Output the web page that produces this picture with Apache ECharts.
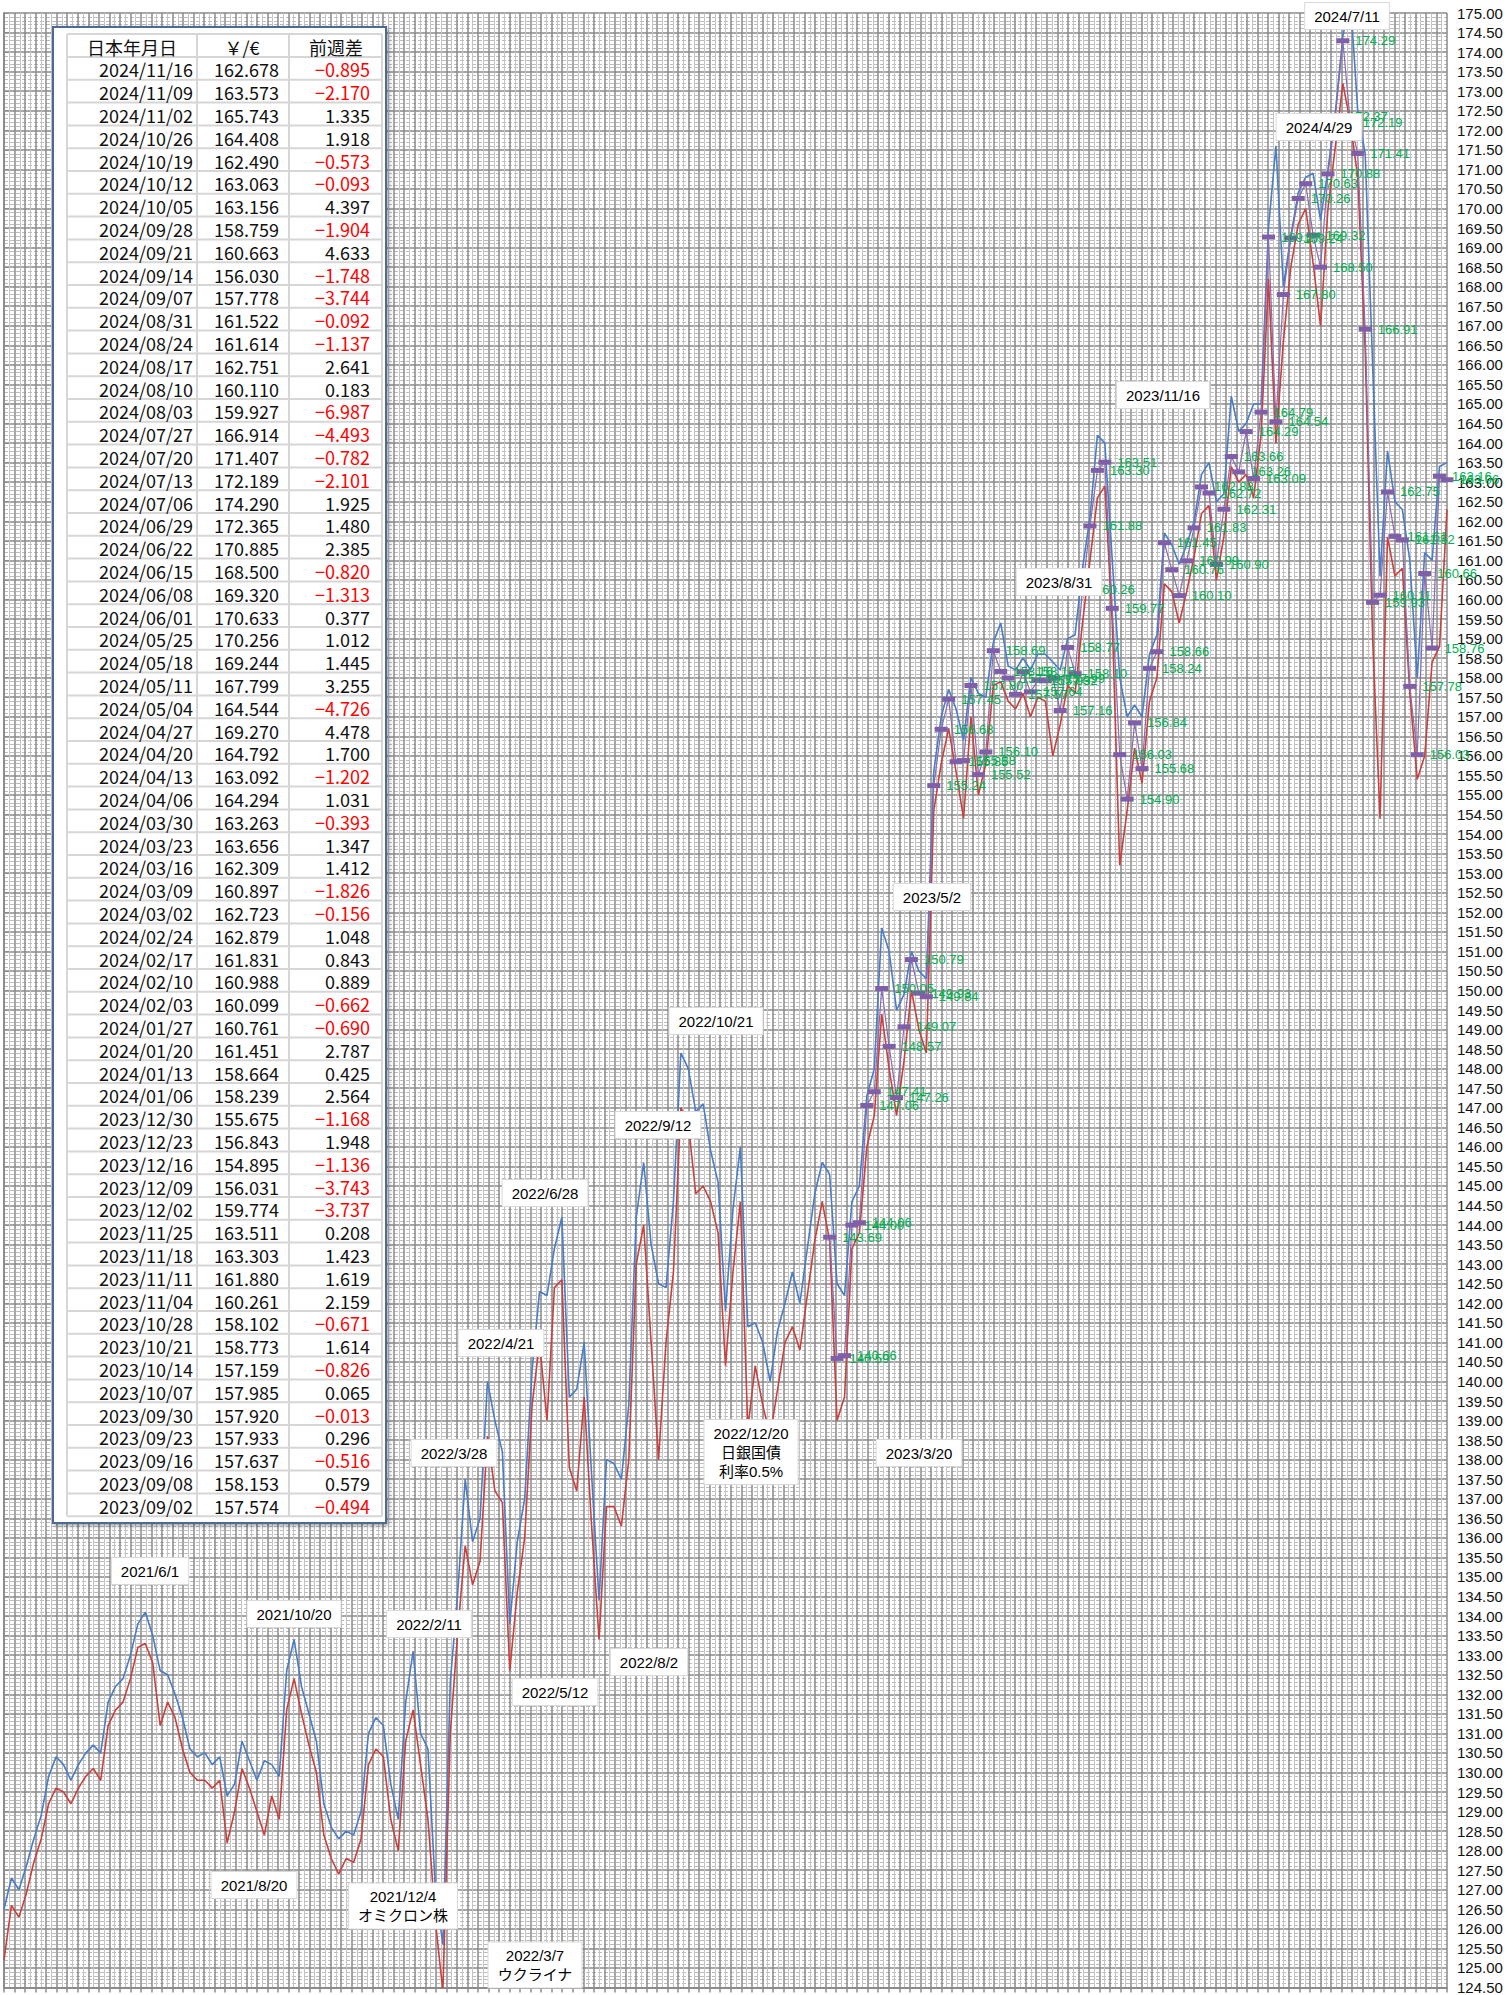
<!DOCTYPE html>
<html><head><meta charset="utf-8">
<script src="https://cdn.jsdelivr.net/npm/echarts/dist/echarts.min.js"></script>
<style>html,body{margin:0;padding:0;background:#fff}#c{width:1507px;height:1995px}</style>
</head><body><div id="c"></div><script>
// ---- DATA ----
// weekly points, first week ends 2021-01-22, last 2024-10-11 (195 weeks)
const firstWeek = '2021-01-22';
const highs = [
126.5,127.3,127.0,127.6,128.3,128.9,129.9,130.4,130.2,129.8,
130.2,130.5,130.7,130.5,131.8,132.2,132.4,133.0,133.8,134.1,
133.5,132.6,132.5,132.0,131.4,130.6,130.4,130.5,130.2,130.4,
129.4,129.7,130.8,130.3,129.8,130.3,130.2,129.9,132.6,133.4,
132.2,131.5,130.8,129.2,128.6,128.3,128.5,128.4,129.0,131.0,
131.4,131.2,129.7,128.8,131.8,133.1,131.0,130.6,127.0,125.6,
132.3,134.6,137.5,135.9,136.5,140.0,139.0,138.2,133.8,135.9,
137.0,140.3,142.3,142.2,143.4,144.2,139.6,139.8,141.0,137.6,
134.4,138.0,137.9,137.5,139.4,144.2,145.6,143.5,142.5,142.4,
144.6,148.4,148.0,146.9,147.1,145.9,145.1,141.8,144.4,146.0,
141.4,141.5,141.0,140.0,141.3,142.0,142.8,142.0,143.4,144.8,
145.6,145.3,142.5,142.2,144.6,145.0,147.3,148.0,151.6,151.0,
149.5,149.9,151.0,150.5,150.3,155.6,157.0,157.7,157.2,156.4,
158.0,157.6,157.5,158.9,159.4,158.3,158.2,158.5,158.2,158.6,
158.6,158.4,158.2,159.0,159.1,160.8,162.1,164.2,164.0,161.0,
158.0,157.0,157.3,157.0,158.6,159.1,161.7,161.4,160.9,161.4,
162.0,163.2,163.5,162.5,162.7,165.2,164.3,164.5,165.0,165.0,
169.5,171.6,168.0,169.3,170.4,170.8,170.9,169.7,171.0,172.5,
174.4,175.4,172.5,171.4,166.0,160.6,163.8,162.5,162.3,161.0,
158.0,161.2,161.0,163.4,163.5];
const lows = [
125.2,126.6,126.3,126.9,127.7,128.3,129.2,129.6,129.5,129.2,
129.6,129.9,130.1,129.8,131.2,131.6,131.8,132.4,133.2,133.3,
132.8,131.2,131.8,131.4,130.6,130.0,129.8,129.8,129.6,129.8,
128.2,129.0,130.1,129.6,129.0,128.4,129.4,128.8,131.6,132.4,
131.5,130.7,130.0,128.4,127.8,127.4,127.8,127.7,128.3,130.2,
130.6,130.4,128.8,128.0,130.8,131.6,130.2,128.8,126.2,124.4,
131.0,133.6,135.8,134.8,135.4,138.6,137.2,136.9,132.6,134.6,
136.0,139.4,141.0,139.0,142.4,142.6,137.8,137.2,139.6,136.3,
133.4,136.8,136.8,136.3,138.0,143.0,144.0,141.0,138.0,141.0,
142.8,147.0,146.6,144.8,145.0,144.6,143.8,140.4,142.8,144.6,
138.8,140.4,139.4,138.6,139.8,141.0,141.4,140.8,142.2,143.6,
144.6,143.6,139.0,139.6,143.4,143.8,146.0,146.8,149.4,148.0,
146.8,148.2,150.0,149.0,148.4,154.6,155.8,156.7,155.6,154.4,
157.0,155.0,155.8,157.8,157.9,157.4,157.2,157.6,157.0,157.5,
157.4,156.0,156.8,157.8,157.6,159.4,161.0,162.6,162.9,159.4,
153.2,154.6,156.2,155.3,157.4,158.0,160.4,160.2,159.4,160.2,
161.1,162.2,162.4,160.5,161.6,163.4,163.0,163.2,162.6,164.2,
168.2,164.0,166.6,168.5,169.6,170.0,168.6,167.0,170.0,171.6,
173.2,172.2,170.8,166.4,159.0,154.4,161.6,160.6,160.8,157.6,
155.4,156.0,158.4,158.8,162.3];
const closesSpring2023 = [143.69,140.59,140.66,144.00,144.06,147.06,147.41,150.05,148.57,147.26,
149.07,150.79,149.93,149.84,155.24,156.68,157.45,155.85,155.88,157.80,155.52,156.10,158.69,158.16,157.99];
// table (newest first)
const tableDates = ['2024/11/16','2024/11/09','2024/11/02','2024/10/26','2024/10/19','2024/10/12','2024/10/05','2024/09/28',
'2024/09/21','2024/09/14','2024/09/07','2024/08/31','2024/08/24','2024/08/17','2024/08/10','2024/08/03','2024/07/27',
'2024/07/20','2024/07/13','2024/07/06','2024/06/29','2024/06/22','2024/06/15','2024/06/08','2024/06/01','2024/05/25',
'2024/05/18','2024/05/11','2024/05/04','2024/04/27','2024/04/20','2024/04/13','2024/04/06','2024/03/30','2024/03/23',
'2024/03/16','2024/03/09','2024/03/02','2024/02/24','2024/02/17','2024/02/10','2024/02/03','2024/01/27','2024/01/20',
'2024/01/13','2024/01/06','2023/12/30','2023/12/23','2023/12/16','2023/12/09','2023/12/02','2023/11/25','2023/11/18',
'2023/11/11','2023/11/04','2023/10/28','2023/10/21','2023/10/14','2023/10/07','2023/09/30','2023/09/23','2023/09/16',
'2023/09/08','2023/09/02'];
const tableRates = [162.678,163.573,165.743,164.408,162.490,163.063,163.156,158.759,160.663,156.030,157.778,161.522,
161.614,162.751,160.110,159.927,166.914,171.407,172.189,174.290,172.365,170.885,168.500,169.320,170.633,170.256,
169.244,167.799,164.544,169.270,164.792,163.092,164.294,163.263,163.656,162.309,160.897,162.723,162.879,161.831,
160.988,160.099,160.761,161.451,158.664,158.239,155.675,156.843,154.895,156.031,159.774,163.511,163.303,161.880,
160.261,158.102,158.773,157.159,157.985,157.920,157.933,157.637,158.153,157.574];
const tableDiffs = [-0.895,-2.170,1.335,1.918,-0.573,-0.093,4.397,-1.904,4.633,-1.748,-3.744,-0.092,-1.137,2.641,0.183,
-6.987,-4.493,-0.782,-2.101,1.925,1.480,2.385,-0.820,-1.313,0.377,1.012,1.445,3.255,-4.726,4.478,1.700,-1.202,1.031,
-0.393,1.347,1.412,-1.826,-0.156,1.048,0.843,0.889,-0.662,-0.690,2.787,0.425,2.564,-1.168,1.948,-1.136,-3.743,-3.737,
0.208,1.423,1.619,2.159,-0.671,1.614,-0.826,0.065,-0.013,0.296,-0.516,0.579,-0.494];
const tableHeader = ['日本年月日','￥/€','前週差'];
const yTickMin = 124.5, yTickMax = 175.0, yTickStep = 0.5;
const annotations = [
  ['2024/7/11',1347,16],['2024/4/29',1319,127],['2023/11/16',1163,395],['2023/8/31',1059,582],
  ['2023/5/2',932,897],['2023/3/20',919,1453],['2022/12/20\n日銀国債\n利率0.5%',751,1452],
  ['2022/10/21',716,1021],['2022/9/12',658,1125],['2022/6/28',545,1193],['2022/4/21',501,1343],
  ['2022/3/28',454,1453],['2022/2/11',429,1624],['2022/5/12',555,1692],['2022/8/2',649,1662],
  ['2022/3/7\nウクライナ',535,1965],['2021/12/4\nオミクロン株',403,1906],['2021/8/20',254,1885],
  ['2021/10/20',294,1614],['2021/6/1',150,1571]
];

// ---- BUILD ----
const N = highs.length;
const cats = [];
{ const d0 = new Date(firstWeek + 'T00:00:00Z');
  for (let i = 0; i < N; i++) { const d = new Date(d0.getTime() + i*7*86400000);
    cats.push(d.getUTCFullYear()+'/'+(d.getUTCMonth()+1)+'/'+d.getUTCDate()); } }
const weekly = new Array(N).fill(null);
closesSpring2023.forEach((v,i)=>{ weekly[111+i] = v; });
for (let w = 136; w < N; w++) weekly[w] = tableRates[199 - w];

const FONT = '"Liberation Sans", Arial, "Noto Sans CJK JP", sans-serif';
const JFONT = '"Noto Sans CJK JP", "Liberation Sans", sans-serif';

const graphics = [];
const TZ = 100;
// table box
const TX0 = 53, TY0 = 27, TX1 = 386, TY1 = 1523;
const cols = [67,197,289,382];
const rowTop0 = 57, rowH = 22.8, headTop = 34;
graphics.push({type:'rect', z:TZ, shape:{x:TX0,y:TY0,width:TX1-TX0,height:TY1-TY0},
  style:{fill:'#fff',stroke:'#4d6b95',lineWidth:2,shadowBlur:4,shadowColor:'rgba(0,0,0,0.35)',shadowOffsetX:2,shadowOffsetY:2}});
const nRows = tableDates.length;
const tBottom = rowTop0 + nRows*rowH;
graphics.push({type:'line',z:TZ+1,shape:{x1:cols[0],y1:headTop,x2:cols[3],y2:headTop},style:{stroke:'#d6d6d6',lineWidth:2}});
for (let i = 0; i <= nRows; i++) {
  const y = rowTop0 + i*rowH;
  graphics.push({type:'line',z:TZ+1,shape:{x1:cols[0],y1:y,x2:cols[3],y2:y},style:{stroke:'#d6d6d6',lineWidth:2}});
}
cols.forEach(x=>graphics.push({type:'line',z:TZ+1,shape:{x1:x,y1:headTop,x2:x,y2:tBottom},style:{stroke:'#d6d6d6',lineWidth:2}}));
const headCx = [132,242,336];
tableHeader.forEach((t,i)=>graphics.push({type:'text',z:TZ+2,x:headCx[i],y:(headTop+rowTop0)/2+1,
  style:{text:t,font:'18px '+JFONT,fill:'#111',align:'center',verticalAlign:'middle',lineHeight:20}}));
for (let i = 0; i < nRows; i++) {
  const cy = rowTop0 + (i+0.5)*rowH + 1;
  graphics.push({type:'text',z:TZ+2,x:193,y:cy,style:{text:tableDates[i],font:'18px '+JFONT,fill:'#111',align:'right',verticalAlign:'middle',lineHeight:20}});
  graphics.push({type:'text',z:TZ+2,x:279,y:cy,style:{text:tableRates[i].toFixed(3),font:'18px '+JFONT,fill:'#111',align:'right',verticalAlign:'middle',lineHeight:20}});
  const dv = tableDiffs[i];
  graphics.push({type:'text',z:TZ+2,x:370,y:cy,style:{text:(dv<0?'−':'')+Math.abs(dv).toFixed(3),font:'18px '+JFONT,
    fill: dv<0?'#ff0000':'#111',align:'right',verticalAlign:'middle',lineHeight:20}});
}
annotations.forEach(a=>{
  graphics.push({type:'text',x:a[1],y:a[2],z:90,style:{text:a[0],font:'15px '+FONT,fill:'#000',
    align:'center',verticalAlign:'middle',lineHeight:19,backgroundColor:'#fff',borderColor:'#d9d9d9',borderWidth:1,
    padding:[4,9,3,9]}});
});

const chart = echarts.init(document.getElementById('c'), null, {renderer:'svg'});
chart.setOption({
  animation:false,
  backgroundColor:'#fff',
  grid:{left:4,top:13,right:60,bottom:6,containLabel:false},
  xAxis:[
    {type:'category',data:cats,boundaryGap:false,show:false},
    {type:'value',min:0,max:137,interval:1,position:'bottom',
      axisLine:{show:true,lineStyle:{color:'#8c8c8c',width:2}},
      axisTick:{show:true,length:5,lineStyle:{color:'#8c8c8c',width:1.5}},
      axisLabel:{show:false},
      splitLine:{show:true,lineStyle:{color:'#8a8a8a',width:1.5}},
      minorTick:{show:false,splitNumber:2},
      minorSplitLine:{show:true,lineStyle:{color:'#c4c4c4',width:1}}}
  ],
  yAxis:{type:'value',position:'right',min:yTickMin,max:yTickMax,interval:yTickStep,
    axisLine:{show:true,lineStyle:{color:'#8c8c8c',width:2}},
    axisTick:{show:true,length:5,lineStyle:{color:'#8c8c8c'}},
    axisLabel:{formatter:v=>v.toFixed(2),color:'#111',fontSize:15,fontFamily:FONT,margin:10},
    splitLine:{show:true,lineStyle:{color:'#8a8a8a',width:1.5}},
    minorTick:{show:false,splitNumber:5},
    minorSplitLine:{show:true,lineStyle:{color:'#bdbdbd',width:1,type:[4,2]}}},
  series:[
    {type:'line',name:'high',data:highs,xAxisIndex:0,symbol:'none',lineStyle:{color:'#4a7cc7',width:1.6},z:3},
    {type:'line',name:'low',data:lows,xAxisIndex:0,symbol:'none',lineStyle:{color:'#c9413e',width:1.6},z:4},
    {type:'line',name:'weekly',data:weekly,xAxisIndex:0,connectNulls:false,symbol:'rect',symbolSize:[13,5],
      showAllSymbol:true,
      itemStyle:{color:'#7e5fa8'},lineStyle:{color:'#8a6ab0',width:1.2},z:5,
      labelLayout:{moveOverlap:'shiftY'},
      label:{show:true,position:'right',distance:6,color:'#00b050',fontSize:13,fontFamily:FONT,
        formatter:p=>p.value==null?'':Number(p.value).toFixed(2)}}
  ],
  graphic:graphics
});
</script></body></html>
